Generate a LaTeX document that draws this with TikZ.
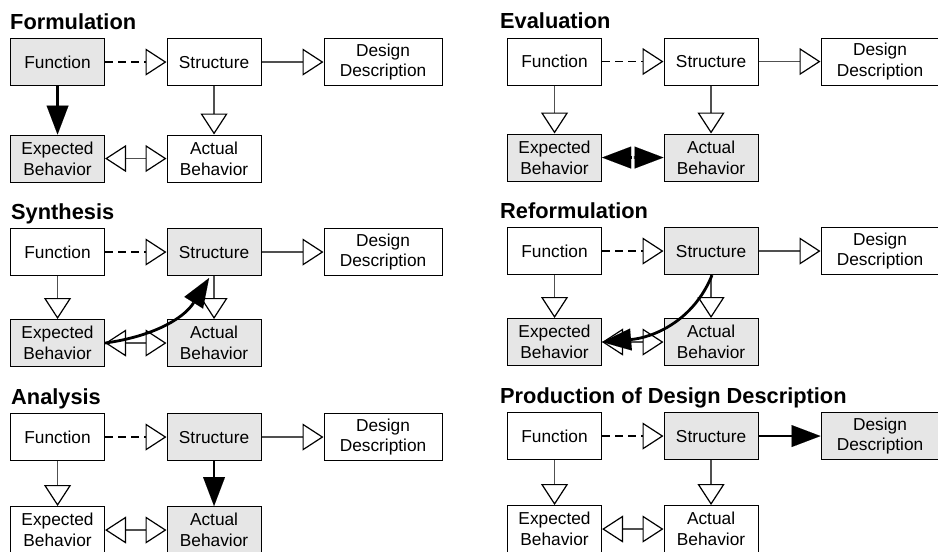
\documentclass[tikz,border=0pt]{standalone}
\usepackage{fontspec}
\setmainfont{Liberation Sans}
\usetikzlibrary{arrows.meta,calc}
\definecolor{boxgray}{RGB}{230,230,230}
\definecolor{linegray}{RGB}{80,80,80}
\newcommand\cbboxfont{\fontsize{17.3}{20.8}\selectfont}
\newcommand\cbtitlefont{\fontsize{21.8}{26}\selectfont\bfseries}
\tikzset{
  otip/.tip={Triangle[open, fill=white, color=black, length=21pt, width=27pt, line width=1.2pt]},
  ftip/.tip={Triangle[length=29pt, width=22pt, line width=0.01pt]},
  cbbox/.style={draw=black, line width=1.1pt, minimum width=94pt, minimum height=47pt,
    inner sep=0pt, align=center, font=\cbboxfont, anchor=north west, fill=white},
  cbtitle/.style={anchor=base west, inner sep=0pt, font=\cbtitlefont},
  shaded/.style={fill=boxgray},
  conn/.style={draw=linegray, line width=1.4pt, -otip},
  bidir/.style={draw=linegray, line width=1.4pt, otip-otip},
  cbdash/.style={draw=black, line width=1.6pt, dash pattern=on 8pt off 5pt, -otip},
  cbthick/.style={draw=black, line width=2.8pt, -ftip},
  fF/.style={}, fS/.style={}, fD/.style={}, fE/.style={}, fA/.style={},
  cFE/.style={conn}, cSA/.style={conn}, cSD/.style={conn}, cEA/.style={bidir}
}
% #1 prefix, #2 x0, #3 top row y, #4 bottom row y, #5 title, #6 title x
\newcommand\cbpanel[6]{%
  \node[cbtitle] (#1T) at (#6,-#3+9) {#5};
  \node[cbbox,fF] (#1F) at (#2,-#3) {Function};
  \node[cbbox,fS] (#1S) at (#2+156.5,-#3) {Structure};
  \node[cbbox,fD,minimum width=118pt] (#1D) at (#2+313.5,-#3) {Design\\Description};
  \node[cbbox,fE] (#1E) at (#2,-#4) {Expected\\Behavior};
  \node[cbbox,fA] (#1A) at (#2+156.5,-#4) {Actual\\Behavior};
  \draw[cbdash] (#1F) -- (#1S);
  \draw[cSD] (#1S) -- (#1D);
  \draw[cFE] (#1F) -- (#1E);
  \draw[cSA] (#1S) -- (#1A);
  \draw[cEA] (#1E) -- (#1A);
}
\begin{document}
\begin{tikzpicture}[x=1pt,y=1pt]
\clip (0,0) rectangle (938,-552);
\fill[white] (0,0) rectangle (938,-552);
% Formulation
\begin{scope}[fF/.style={shaded}, fE/.style={shaded}, cFE/.style={cbthick}]
  \cbpanel{pa}{10}{38}{134.5}{Formulation}{10}
\end{scope}
% Evaluation
\begin{scope}[fE/.style={shaded}, fA/.style={shaded}, cEA/.style={draw=none}]
  \cbpanel{pb}{507}{37.5}{133.5}{Evaluation}{500}
  \coordinate (pbm) at ($(pbE.east)!0.5!(pbA.west)$);
  \draw[cbthick, shorten <=1pt] (pbm) -- (pbE.east);
  \draw[cbthick, shorten <=1pt] (pbm) -- (pbA.west);
\end{scope}
% Synthesis
\begin{scope}[fS/.style={shaded}, fE/.style={shaded}, fA/.style={shaded}]
  \cbpanel{pc}{10}{228}{319}{Synthesis}{11}
  \coordinate (pct) at ($(pcS.south)+(-5,-2)$);
  \draw[cbthick] (pcE.east) to[out=8, in=-122] (pct);
\end{scope}
% Reformulation
\begin{scope}[fS/.style={shaded}, fE/.style={shaded}, fA/.style={shaded}]
  \cbpanel{pd}{507}{227}{318}{Reformulation}{500}
  \coordinate (pds) at ($(pdS.south)+(1,0)$);
  \draw[cbthick] (pds) to[out=-112, in=5] (pdE.east);
\end{scope}
% Analysis
\begin{scope}[fS/.style={shaded}, fA/.style={shaded}, cSA/.style={cbthick}]
  \cbpanel{pe}{10}{413}{506}{Analysis}{11}
\end{scope}
% Production of Design Description
\begin{scope}[fS/.style={shaded}, fD/.style={shaded}, cSD/.style={cbthick}]
  \cbpanel{pf}{507}{412}{505}{Production of Design Description}{500}
\end{scope}
\end{tikzpicture}
\end{document}
